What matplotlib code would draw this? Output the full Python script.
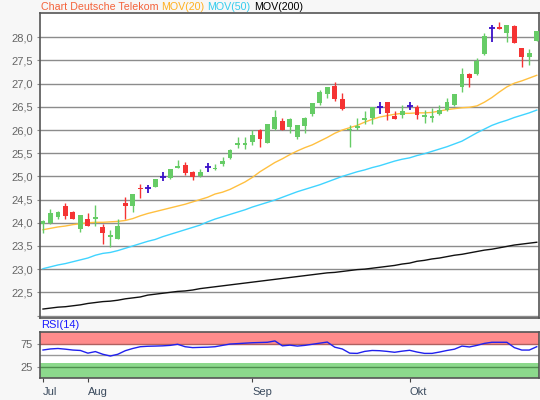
import numpy as np
import pandas as pd
import matplotlib
matplotlib.use("Agg")
import matplotlib.pyplot as plt

plt.rcParams['font.family'] = ['Liberation Sans', 'DejaVu Sans']

# trading days shown (Xetra), Jul 24 .. Oct 2024
dates = pd.bdate_range('2024-07-24', periods=67)
month_names = {7: 'Jul', 8: 'Aug', 9: 'Sep', 10: 'Okt'}

opens = [23.98, 23.99, 24.13, 24.36, 24.23, 23.87, 24.09, 24.09, 23.91, 23.70,
         23.66, 24.43, 24.37, 24.75, 24.76, 24.78, 24.99, 24.97, 25.19, 25.25,
         25.09, 25.01, 25.20, 25.15, 25.27, 25.40, 25.68, 25.68, 25.75, 25.99,
         25.72, 26.02, 26.19, 26.07, 25.85, 26.08, 26.35, 26.58, 26.78, 26.94,
         26.66, 26.00, 26.05, 26.21, 26.25, 26.49, 26.61, 26.31, 26.33, 26.52,
         26.50, 26.28, 26.26, 26.34, 26.44, 26.55, 26.93, 27.21, 27.20, 27.63,
         28.19, 28.22, 28.09, 28.25, 27.76, 27.58, 27.91]
highs = [24.07, 24.30, 24.26, 24.43, 24.25, 24.17, 24.21, 24.38, 23.97, 23.84,
         24.08, 24.55, 24.63, 24.84, 24.81, 24.95, 25.09, 25.17, 25.35, 25.31,
         25.12, 25.15, 25.29, 25.27, 25.42, 25.59, 25.85, 25.85, 25.99, 26.02,
         26.14, 26.43, 26.27, 26.27, 26.10, 26.29, 26.58, 26.86, 26.92, 27.03,
         26.79, 26.11, 26.26, 26.42, 26.49, 26.60, 26.61, 26.41, 26.53, 26.61,
         26.53, 26.44, 26.47, 26.54, 26.70, 26.77, 27.33, 27.22, 27.55, 28.09,
         28.27, 28.32, 28.27, 28.27, 27.76, 27.74, 28.14]
lows = [23.79, 23.98, 24.09, 24.09, 24.08, 23.80, 23.92, 23.92, 23.54, 23.47,
        23.65, 24.08, 24.24, 24.54, 24.65, 24.77, 24.89, 24.95, 25.18, 25.04,
        24.92, 24.99, 25.09, 25.14, 25.23, 25.37, 25.62, 25.60, 25.67, 25.63,
        25.71, 26.01, 25.99, 25.94, 25.81, 25.94, 26.31, 26.55, 26.68, 26.63,
        26.44, 25.63, 25.99, 26.13, 26.13, 26.34, 26.21, 26.23, 26.25, 26.43,
        26.23, 26.15, 26.17, 26.33, 26.41, 26.51, 26.82, 26.93, 27.19, 27.61,
        27.89, 28.18, 27.90, 27.88, 27.36, 27.40, 27.91]
closes = [24.03, 24.22, 24.23, 24.15, 24.09, 24.16, 23.94, 24.12, 23.79, 23.73,
          23.93, 24.37, 24.63, 24.72, 24.76, 24.94, 24.99, 25.15, 25.22, 25.08,
          24.99, 25.09, 25.20, 25.18, 25.34, 25.57, 25.72, 25.72, 25.89, 25.81,
          26.12, 26.29, 25.99, 26.23, 26.10, 26.25, 26.58, 26.81, 26.92, 26.67,
          26.45, 26.03, 26.09, 26.25, 26.49, 26.49, 26.36, 26.23, 26.40, 26.52,
          26.32, 26.32, 26.31, 26.44, 26.61, 26.77, 27.20, 27.12, 27.48, 28.02,
          28.19, 28.18, 28.27, 27.88, 27.58, 27.66, 28.14]

mov20 = [23.85, 23.88, 23.91, 23.93, 23.96, 23.98, 24.00, 24.01, 24.01, 24.02,
         24.03, 24.05, 24.09, 24.15, 24.20, 24.24, 24.28, 24.32, 24.36, 24.40,
         24.45, 24.50, 24.55, 24.62, 24.66, 24.72, 24.80, 24.88, 24.98, 25.10,
         25.20, 25.30, 25.38, 25.47, 25.55, 25.62, 25.68, 25.76, 25.84, 25.93,
         26.00, 26.05, 26.10, 26.17, 26.23, 26.28, 26.31, 26.34, 26.36, 26.36,
         26.37, 26.37, 26.38, 26.41, 26.44, 26.46, 26.48, 26.49, 26.52, 26.60,
         26.70, 26.82, 26.93, 27.01, 27.06, 27.12, 27.18]
mov50 = [23.01, 23.05, 23.09, 23.12, 23.16, 23.20, 23.24, 23.30, 23.34, 23.36,
         23.40, 23.45, 23.50, 23.55, 23.60, 23.64, 23.70, 23.75, 23.80, 23.85,
         23.90, 23.95, 24.02, 24.08, 24.13, 24.18, 24.23, 24.28, 24.34, 24.39,
         24.44, 24.49, 24.55, 24.61, 24.67, 24.72, 24.77, 24.82, 24.88, 24.94,
         25.00, 25.05, 25.10, 25.14, 25.19, 25.23, 25.28, 25.33, 25.37, 25.40,
         25.45, 25.49, 25.54, 25.59, 25.64, 25.70, 25.76, 25.85, 25.94, 26.02,
         26.10, 26.16, 26.21, 26.27, 26.32, 26.37, 26.43]
mov200 = [22.14, 22.16, 22.18, 22.19, 22.21, 22.23, 22.26, 22.28, 22.30, 22.31,
          22.33, 22.36, 22.38, 22.40, 22.44, 22.46, 22.48, 22.50, 22.52, 22.53,
          22.55, 22.58, 22.60, 22.62, 22.64, 22.66, 22.68, 22.70, 22.72, 22.74,
          22.76, 22.78, 22.80, 22.82, 22.84, 22.86, 22.88, 22.90, 22.92, 22.93,
          22.95, 22.97, 22.99, 23.00, 23.02, 23.04, 23.06, 23.08, 23.11, 23.13,
          23.17, 23.19, 23.22, 23.24, 23.27, 23.30, 23.32, 23.35, 23.38, 23.41,
          23.43, 23.46, 23.49, 23.52, 23.54, 23.56, 23.58]
rsi14 = [61.1, 63.4, 64.4, 62.9, 61.0, 60.1, 54.3, 57.7, 51.9, 48.1,
         51.9, 59.6, 64.4, 68.2, 69.2, 69.6, 70.1, 71.1, 73.5, 68.2,
         66.3, 66.8, 67.2, 68.2, 71.1, 74.0, 74.9, 75.9, 76.8, 77.3,
         77.8, 80.7, 70.1, 71.6, 69.6, 71.1, 73.5, 75.9, 78.3, 67.2,
         63.4, 54.3, 53.8, 58.1, 60.1, 59.6, 58.1, 56.2, 58.6, 60.5,
         56.7, 53.8, 53.8, 56.7, 60.1, 62.9, 69.6, 67.7, 71.1, 75.4,
         77.8, 77.8, 77.8, 66.3, 61.0, 61.0, 68.2]

GREEN = '#66cc66'
RED = '#f53333'
DOJI = '#3a10c8'

o = np.array(opens)
h = np.array(highs)
l = np.array(lows)
c = np.array(closes)
x = np.arange(len(dates))
up = c > o
down = c < o
flat = c == o

fig = plt.figure(figsize=(5.4, 4.0), dpi=100, facecolor='#f7f7f7')
ax = fig.add_axes([40 / 540, (400 - 318.3) / 400, 499 / 540, (318.3 - 12.7) / 400])
rax = fig.add_axes([40 / 540, (400 - 378.3) / 400, 499 / 540, (378.3 - 332) / 400], sharex=ax)

# candles
ax.vlines(x[up], l[up], h[up], color=GREEN, lw=1, zorder=3)
ax.vlines(x[down], l[down], h[down], color=RED, lw=1, zorder=3)
ax.bar(x[up], (c - o)[up], bottom=o[up], width=0.65, color=GREEN, lw=0, zorder=3)
ax.bar(x[down], (o - c)[down], bottom=c[down], width=0.65, color=RED, lw=0, zorder=3)
ax.vlines(x[flat], l[flat], h[flat], color=DOJI, lw=1.3, zorder=3)
ax.hlines(c[flat], x[flat] - 0.4, x[flat] + 0.4, color=DOJI, lw=1.3, zorder=3)

ax.plot(x, mov20, color='#ffc040', lw=1.0, zorder=2)
ax.plot(x, mov50, color='#40d4ff', lw=1.0, zorder=2)
ax.plot(x, mov200, color='#111111', lw=1.0, zorder=2)

ax.set_xlim(-0.4, 66.3)
ax.set_ylim(21.94, 28.53)
yt = np.arange(22.0, 28.01, 0.5)
ax.set_yticks(yt)
ax.set_yticklabels([''] + [f"{v:.1f}".replace('.', ',') for v in yt[1:]])
ax.grid(axis='y', color='#8c8c8c', lw=1.0)
ax.set_axisbelow(True)
ax.tick_params(axis='x', bottom=False, labelbottom=False)
ax.tick_params(axis='y', length=2, color='#888888', labelcolor='#666666', labelsize=8, pad=3)
for s in ax.spines.values():
    s.set_color('#555555')
    s.set_linewidth(1.2)

# RSI panel
rax.axhspan(75, 100, color='#ff8c8c', lw=0)
rax.axhspan(0, 33, color='#8cd98c', lw=0)
rax.axhline(75, color='#b06060', lw=1)
rax.axhline(50, color='#999999', lw=1)
rax.axhline(25, color='#4f8f4f', lw=1)
rax.plot(x, rsi14, color='#2020ee', lw=1)
rax.set_ylim(0, 100)
rax.set_yticks([25, 75])
rax.tick_params(axis='y', length=2, color='#888888', labelcolor='#666666', labelsize=8, pad=3)
for s in rax.spines.values():
    s.set_color('#555555')
    s.set_linewidth(1.2)

months = dates.month
tick_pos = [i for i in range(len(dates)) if i == 0 or months[i] != months[i - 1]]
rax.set_xticks(tick_pos)
rax.set_xticklabels([month_names[months[i]] for i in tick_pos], ha='left')
rax.tick_params(axis='x', length=3, color='#444444', labelcolor='#3b4b5e', labelsize=8, pad=3)

fig.text(41 / 540, 0.1875, 'RSI(14)', color='#1a1aff', fontsize=8, va='center')

# colored title line
parts = [('Chart Deutsche Telekom', '#f4623a'), ('MOV(20)', '#ffb020'),
         ('MOV(50)', '#33ccee'), ('MOV(200)', '#000000')]
fig.canvas.draw()
renderer = fig.canvas.get_renderer()
xpos = 41
for txt, col in parts:
    t = fig.text(xpos / 540, 1 - 10.3 / 400, txt, color=col, fontsize=7.7, va='baseline')
    ext = t.get_window_extent(renderer)
    xpos = ext.x1 + 3

fig.savefig('out.png', dpi=100, facecolor=fig.get_facecolor())
